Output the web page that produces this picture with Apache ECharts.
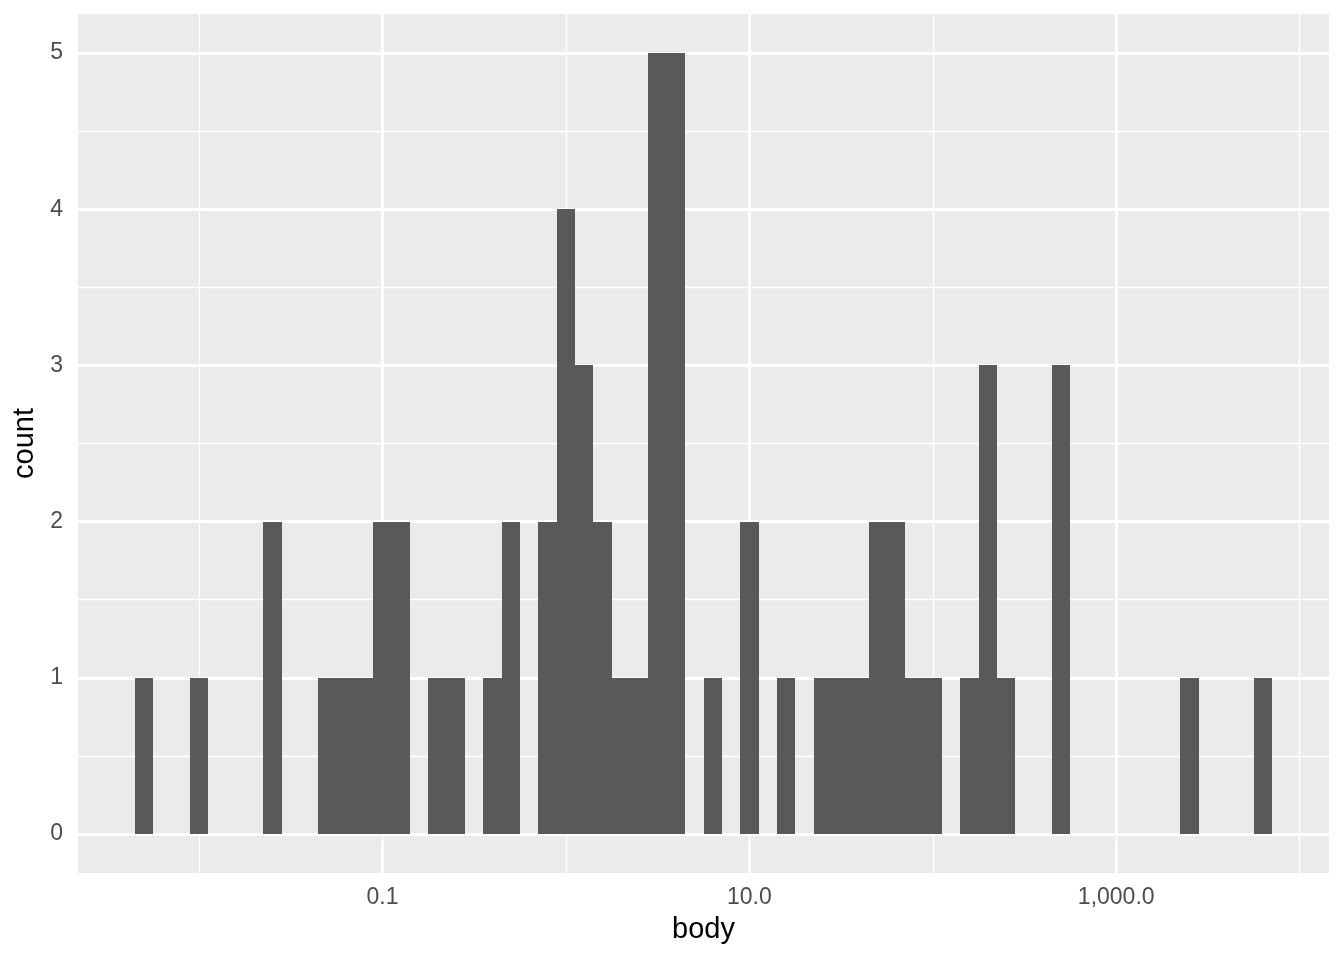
<!DOCTYPE html>
<html>
<head>
<meta charset="utf-8">
<script src="https://cdn.jsdelivr.net/npm/echarts@6/dist/echarts.min.js"></script>
<style>html,body{margin:0;padding:0;background:#fff;}#chart{width:1344px;height:960px;}</style>
</head>
<body>
<div id="chart"></div>
<script>
// Histogram bins on log10(body) scale: bin centers (log10 units), bin width 0.1
const binCenters = [-2.3, -2.0, -1.6, -1.3, -1.2, -1.1, -1.0, -0.9, -0.7, -0.6, -0.4, -0.3,
  -0.1, 0.0, 0.1, 0.2, 0.3, 0.4, 0.5, 0.6, 0.8, 1.0, 1.2, 1.4, 1.5, 1.6, 1.7, 1.8, 1.9, 2.0,
  2.2, 2.3, 2.4, 2.7, 3.4, 3.8];
const counts = [1, 1, 2, 1, 1, 1, 2, 2, 1, 1, 1, 2,
  2, 4, 3, 2, 1, 1, 5, 5, 1, 2, 1, 1, 1, 1, 2, 2, 1, 1,
  1, 3, 1, 3, 1, 1];
const binWidth = 0.1;
const xMajorTicks = [-1, 1, 3];
const xTickLabels = ['0.1', '10.0', '1,000.0'];
const xMinorTicks = [-2, 0, 2, 4];
const yMajorTicks = [0, 1, 2, 3, 4, 5];
const yMinorTicks = [0.5, 1.5, 2.5, 3.5, 4.5];
const xRange = [-2.66, 4.16];
const yRange = [-0.25, 5.25];

const chart = echarts.init(document.getElementById('chart'), null, {renderer: 'canvas'});
const font = 'Liberation Sans, Arial, Helvetica, sans-serif';

const gridLines = []
  .concat(xMinorTicks.map(v => ({xAxis: v, lineStyle: {width: 1.4}})))
  .concat(yMinorTicks.map(v => ({yAxis: v, lineStyle: {width: 1.4}})))
  .concat(xMajorTicks.map(v => ({xAxis: v, lineStyle: {width: 2.8}})))
  .concat(yMajorTicks.map(v => ({yAxis: v, lineStyle: {width: 2.8}})));

const option = {
  animation: false,
  backgroundColor: '#FFFFFF',
  grid: {left: 78, top: 14, right: 15, bottom: 87, show: true, backgroundColor: '#EBEBEB', borderWidth: 0},
  xAxis: {
    type: 'value', min: xRange[0], max: xRange[1],
    name: 'body', nameLocation: 'middle', nameGap: 42,
    nameTextStyle: {color: '#000', fontSize: 29, fontFamily: font},
    axisLine: {show: false},
    axisTick: {show: true, customValues: xMajorTicks, length: 7, lineStyle: {color: '#333333', width: 2.5}},
    axisLabel: {customValues: xMajorTicks, margin: 13, color: '#4D4D4D', fontSize: 23, fontFamily: font,
      formatter: v => xTickLabels[xMajorTicks.findIndex(t => Math.abs(t - v) < 1e-9)]},
    splitLine: {show: false}
  },
  yAxis: {
    type: 'value', min: yRange[0], max: yRange[1],
    name: 'count', nameLocation: 'middle', nameGap: 30, nameRotate: 90,
    nameTextStyle: {color: '#000', fontSize: 29, fontFamily: font},
    axisLine: {show: false},
    axisTick: {show: true, customValues: yMajorTicks, length: 7, lineStyle: {color: '#333333', width: 2.5}},
    axisLabel: {customValues: yMajorTicks, margin: 15, color: '#4D4D4D', fontSize: 23, fontFamily: font},
    splitLine: {show: false}
  },
  series: [
    {
      type: 'line', data: [], z: 1, silent: true,
      markLine: {silent: true, z: 1, symbol: ['none', 'none'], label: {show: false},
        lineStyle: {color: '#FFFFFF', type: 'solid'}, data: gridLines, animation: false}
    },
    {
      type: 'custom', z: 10,
      data: binCenters.map((c, i) => [c, counts[i]]),
      renderItem: function (params, api) {
        const c = api.value(0), n = api.value(1);
        const p0 = api.coord([c - binWidth / 2, n]);
        const p1 = api.coord([c + binWidth / 2, 0]);
        const x0 = Math.round(p0[0]), x1 = Math.round(p1[0]);
        const y0 = Math.round(p0[1]), y1 = Math.round(p1[1]);
        return {type: 'rect', shape: {x: x0, y: y0, width: x1 - x0, height: y1 - y0},
          style: {fill: '#595959'}};
      }
    }
  ]
};
chart.setOption(option);
</script>
</body>
</html>
